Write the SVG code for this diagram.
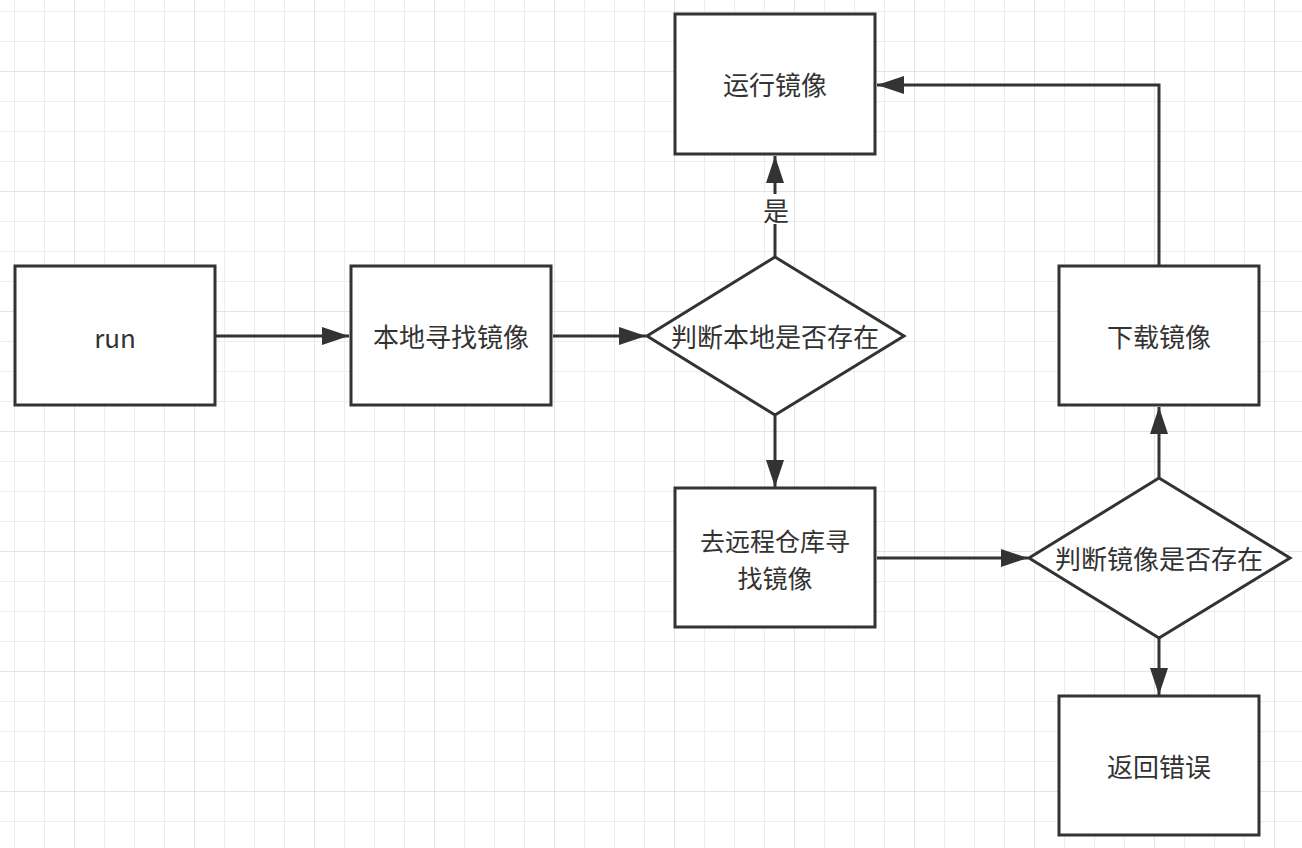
<svg xmlns="http://www.w3.org/2000/svg" width="1302" height="848" viewBox="0 0 1302 848">
<defs>
<pattern id="minor" x="14" y="11" width="30" height="30" patternUnits="userSpaceOnUse">
<path d="M0 0 V30 M0 0 H30" fill="none" stroke="#ededed" stroke-width="2"/>
</pattern>
<pattern id="major" x="74" y="71" width="120" height="120" patternUnits="userSpaceOnUse">
<path d="M0 0 V120 M0 0 H120" fill="none" stroke="#e4e4e4" stroke-width="2"/>
</pattern>
<marker id="arr" markerWidth="27" markerHeight="18" refX="27" refY="9" orient="auto" markerUnits="userSpaceOnUse">
<path d="M0 0 L27 9 L0 18 Z" fill="#333"/>
</marker>
<style>
.n{fill:#fff;stroke:#333;stroke-width:3}
.t{font-family:"Noto Sans CJK SC","Liberation Sans",sans-serif;font-size:26px;fill:#333;text-anchor:middle;dominant-baseline:central}
.s{font-size:25px}
.c{fill:none;stroke:#333;stroke-width:3}
</style>
</defs>
<rect width="1302" height="848" fill="#fff"/>
<rect width="1302" height="848" fill="url(#minor)"/>
<rect width="1302" height="848" fill="url(#major)"/>
<g id="connectors">
<path class="c" d="M216 336 H349" marker-end="url(#arr)"/>
<path class="c" d="M553 336 H646" marker-end="url(#arr)"/>
<path class="c" d="M775 257 V156" marker-end="url(#arr)"/>
<path class="c" d="M775 416 V487" marker-end="url(#arr)"/>
<path class="c" d="M877 558 H1028" marker-end="url(#arr)"/>
<path class="c" d="M1159 478 V407" marker-end="url(#arr)"/>
<path class="c" d="M1159 638 V695" marker-end="url(#arr)"/>
<path class="c" d="M1159 265 V85 H877" marker-end="url(#arr)"/>
<rect x="762" y="194" width="26" height="30" fill="#fff"/>
<text class="t" x="776" y="209">是</text>
</g>
<g id="run"><rect class="n" x="15" y="266" width="200" height="139"/><text class="t" x="115" y="336">run</text></g>
<g id="local"><rect class="n" x="351" y="266" width="200" height="139"/><text class="t" x="451" y="335">本地寻找镜像</text></g>
<g id="check-local"><path class="n" d="M775 257 L904 336 L775 415 L647 336 Z"/><text class="t" x="775" y="335">判断本地是否存在</text></g>
<g id="run-image"><rect class="n" x="675" y="14" width="200" height="140"/><text class="t" x="775" y="83">运行镜像</text></g>
<g id="remote"><rect class="n" x="675" y="488" width="200" height="139"/><text class="t s" x="775" y="540">去远程仓库寻</text><text class="t s" x="775" y="577">找镜像</text></g>
<g id="check-remote"><path class="n" d="M1159 478 L1290 558 L1159 638 L1029 558 Z"/><text class="t" x="1159" y="557">判断镜像是否存在</text></g>
<g id="download"><rect class="n" x="1059" y="266" width="200" height="139"/><text class="t" x="1159" y="335">下载镜像</text></g>
<g id="error"><rect class="n" x="1059" y="696" width="200" height="139"/><text class="t" x="1159" y="765">返回错误</text></g>
</svg>
